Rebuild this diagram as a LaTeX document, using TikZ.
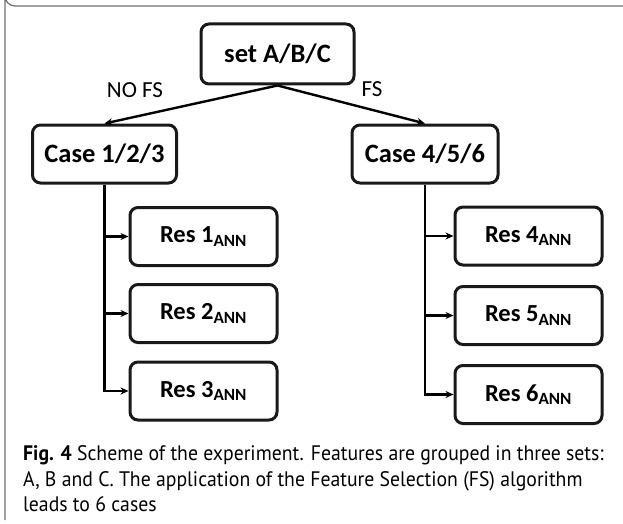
\documentclass[tikz,border=0pt]{standalone}
\usepackage{fontspec}
\setmainfont{Carlito}
\newfontfamily\capfont[FakeStretch=0.94]{PT Sans}
\usetikzlibrary{arrows.meta}
\definecolor{framegray}{RGB}{110,110,110}
\begin{document}
\begin{tikzpicture}[x=1pt,y=-1pt,
  box/.style={draw=black!90, line width=3pt, rounded corners=8pt, minimum height=58pt, inner sep=0pt, font=\fontsize{26.5}{30}\selectfont\bfseries},
  resbox/.style={box, minimum width=147pt, font=\fontsize{24.5}{28}\selectfont\bfseries},
  conn/.style={line width=2.4pt, -{Stealth[length=8pt,width=7pt]}},
  lbl/.style={font=\fontsize{23}{26}\selectfont},
  captxt/.style={anchor=base west, inner sep=0pt, font=\capfont\fontsize{21}{25}\selectfont}
]
\useasboundingbox (0,0) rectangle (623,524);
% frame
\draw[framegray, line width=1.2pt] (623,6) -- (15,6) arc[start angle=90, end angle=180, radius=10] -- (5,520);

\node[box, minimum width=153pt, minimum height=60pt] (set) at (277.5,54) {set A/B/C};
\node[box, minimum width=144pt] (c1) at (104.5,154) {Case 1/2/3};
\node[box, minimum width=146pt] (c2) at (425,154) {Case 4/5/6};

\draw[conn] (set.south) -- (c1.north);
\draw[conn] (set.south) -- (c2.north);
\node[lbl] (nofs) at (135,90) {NO FS};
\node[lbl] (fs) at (372,89) {FS};

\node[resbox] (r1) at (203.5,236.5) {Res 1\textsubscript{ANN}};
\node[resbox] (r2) at (203.5,313.5) {Res 2\textsubscript{ANN}};
\node[resbox] (r3) at (203.5,391) {Res 3\textsubscript{ANN}};
\node[resbox] (r4) at (528.5,236) {Res 4\textsubscript{ANN}};
\node[resbox] (r5) at (528.5,315.5) {Res 5\textsubscript{ANN}};
\node[resbox] (r6) at (528.5,394.5) {Res 6\textsubscript{ANN}};

\draw[conn] (c1.south) |- (r3.west);
\draw[conn] (c1.south |- r1.west) -- (r1.west);
\draw[conn] (c1.south |- r2.west) -- (r2.west);
\draw[conn] (c2.south) |- (r6.west);
\draw[conn] (c2.south |- r4.west) -- (r4.west);
\draw[conn] (c2.south |- r5.west) -- (r5.west);

\node[captxt] (cap1) at (23,460) {\textbf{Fig. 4} Scheme of the experiment. Features are grouped in three sets:};
\node[captxt] (cap2) at (23,486) {A, B and C. The application of the Feature Selection (FS) algorithm};
\node[captxt] (cap3) at (23,511) {leads to 6 cases};
\end{tikzpicture}
\end{document}
